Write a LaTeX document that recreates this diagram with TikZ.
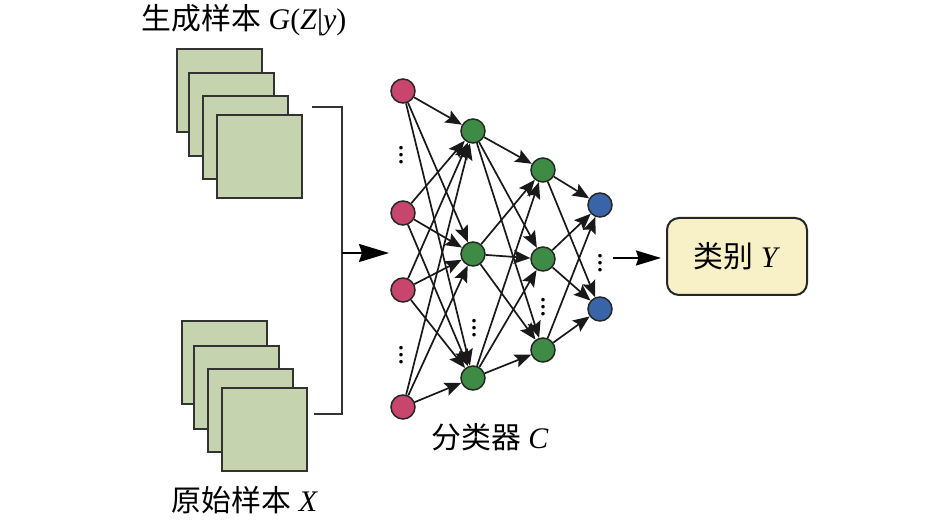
\documentclass[tikz,border=0pt]{standalone}
\usepackage{fontspec}
\setmainfont{Liberation Serif}
\newfontfamily\cjk{Noto Sans CJK SC}
\usetikzlibrary{arrows.meta}

\definecolor{samplefill}{RGB}{197,211,174}
\definecolor{inred}{RGB}{200,70,110}
\definecolor{hidgreen}{RGB}{61,139,69}
\definecolor{outblue}{RGB}{58,100,168}
\definecolor{clsfill}{RGB}{248,240,198}

\begin{document}
\begin{tikzpicture}[x=0.2mm, y=-0.2mm,
  sample/.style={draw=black!80, fill=samplefill, line width=0.4mm, minimum width=17mm, minimum height=16.6mm, inner sep=0pt, anchor=north west},
  neuron/.style={circle, draw=black!85, line width=0.3mm, minimum size=4.8mm, inner sep=0pt},
  link/.style={line width=0.34mm, black!90, -{Stealth[length=3.3mm, width=2.7mm, inset=0.6mm]}},
  bracket/.style={line width=0.4mm, black!80},
  bigarrow/.style={line width=0.4mm, -{Stealth[length=6mm, width=3.6mm, inset=0.6mm]}},
  clsbox/.style={draw=black!85, fill=clsfill, line width=0.4mm, rounded corners=2.4mm, minimum width=28mm, minimum height=15.4mm},
  lbl/.style={font=\fontsize{17}{20}\selectfont, inner sep=0pt},
  dots/.style={font=\fontsize{17}{18}\selectfont, inner sep=0pt}
]
  \useasboundingbox (0,0) rectangle (945,528);

  % sample stacks
  \foreach \i/\x/\y in {1/176/48, 2/188/72, 3/202/95, 4/216/114}
    \node[sample] (g\i) at (\x,\y) {};
  \foreach \i/\x/\y in {1/181/320, 2/193/345, 3/207/368, 4/221/387}
    \node[sample] (x\i) at (\x,\y) {};
  \node[lbl] (gl) at (244,20) {{\cjk 生成样本} \textit{G}(\textit{Z}|\textit{y})};
  \node[lbl] (xl) at (245,500) {{\cjk 原始样本} \textit{X}};

  % bracket joining both inputs
  \coordinate (bt) at (312,107);
  \coordinate (bb) at (314,414);
  \coordinate (join) at (342,253);
  \coordinate (feed) at (389,253);
  \draw[bracket] (bt) -- (342,107) -- (342,414) -- (bb);
  \draw[bigarrow] (join) -- (feed);

  % classifier
  \foreach \i/\y in {1/91, 2/213, 3/290, 4/407}
    \node[neuron, fill=inred] (r\i) at (403,\y) {};
  \foreach \i/\y in {1/131, 2/254, 3/378}
    \node[neuron, fill=hidgreen] (ha\i) at (473,\y) {};
  \foreach \i/\y in {1/170, 2/259, 3/350}
    \node[neuron, fill=hidgreen] (hb\i) at (543,\y) {};
  \foreach \i/\y in {1/205, 2/309}
    \node[neuron, fill=outblue] (o\i) at (600,\y) {};

  \node[dots] (rd1) at (401,150) {$\vdots$};
  \node[dots] (rd2) at (401,350) {$\vdots$};
  \node[dots] (had) at (474,323) {$\vdots$};
  \node[dots] (hbd) at (543,302) {$\vdots$};
  \node[dots] (od) at (600,258) {$\vdots$};

  \foreach \a in {1,...,4}
    \foreach \b in {1,2,3}
      \draw[link] (r\a) -- (ha\b);
  \foreach \a in {1,2,3}
    \foreach \b in {1,2,3}
      \draw[link] (ha\a) -- (hb\b);
  \foreach \a in {1,2,3}
    \foreach \b in {1,2}
      \draw[link] (hb\a) -- (o\b);

  \node[lbl] (cl) at (490,437) {{\cjk 分类器} \textit{C}};

  % output class
  \node[clsbox, lbl] (cls) at (737,256.5) {{\cjk 类别} \textit{Y}};
  \coordinate (out) at (613,258);
  \draw[line width=0.4mm, -{Stealth[length=5mm, width=3mm, inset=0.5mm]}, shorten >=1mm] (out) -- (cls.west |- out);
\end{tikzpicture}
\end{document}
